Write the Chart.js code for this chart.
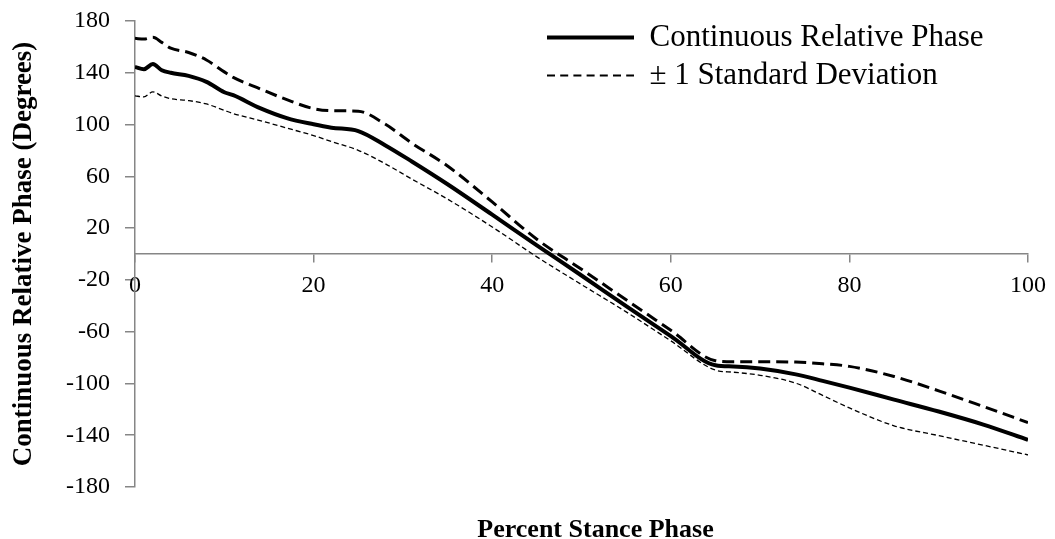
<!DOCTYPE html>
<html>
<head>
<meta charset="UTF-8">
<script src="https://cdn.jsdelivr.net/npm/chart.js@4.4.0/dist/chart.umd.min.js"></script>
<style>
  body { margin: 0; background: #fff; }
</style>
</head>
<body>
<canvas id="chart" width="1055" height="539"></canvas>
<script>
// percent of stance phase (x) and relative phase in degrees
const stance = [0, 1, 2, 3, 4, 6, 8, 10, 11, 14, 17, 20, 22, 25, 28, 31, 35, 40, 45, 50,
                55, 60, 65, 67, 70, 74, 77, 80, 85, 90, 95, 100];
const crpMean = [144.6, 142.8, 146.7, 142, 140, 137.6, 133, 125, 122.7, 112.7, 105, 100.2, 97.6, 95,
                 84.1, 71.5, 53.9, 30.4, 6.7, -16.6, -40.3, -63.4, -86, -86.9, -88.5, -93, -98,
                 -103.2, -112.5, -121.7, -131.8, -143.6];
const crpPlusSD = [166.6, 166, 167.4, 163.5, 159, 155.7, 149.9, 140.7, 136.4, 127.6, 119.2, 112.3,
                   110.7, 110.3, 100.4, 85.6, 68, 40.2, 11.4, -11.8, -35.4, -58.9, -82.4, -83.2,
                   -83.2, -83.5, -84.8, -86.8, -94.6, -105.7, -117.8, -130.2];
const crpMinusSD = [122.2, 121.4, 125.3, 122, 120, 118.5, 115.9, 111, 108.5, 103.1, 97.3, 91.5,
                    86.9, 80.1, 69.8, 57.9, 42.4, 20.9, -2.2, -23.6, -44.7, -67.1, -89.7, -91.3,
                    -93.7, -99.8, -109.2, -118.9, -132.7, -140.3, -147.7, -155.2];

const yMin = -180, yMax = 180, yStep = 40;
const xMin = 0, xMax = 100, xStep = 20;

const serif = 'Liberation Serif, Times New Roman, serif';
const axisGrey = '#868686';

function pts(ys) {
  return stance.map((x, i) => ({ x: x, y: ys[i] }));
}

// put the legend inside the plot, top right, and nudge the bottom title
const placeBoxes = {
  id: 'placeBoxes',
  afterLayout(chart) {
    const lg = chart.legend;
    lg.left = 540;
    lg.top = 15;
    lg.right = 1050;
    lg.bottom = 200;
    const t = chart.scales.x2;
    t.left += 14;
    t.right += 14;
  }
};

new Chart(document.getElementById('chart'), {
  type: 'line',
  data: {
    datasets: [
      {
        label: 'Continuous Relative Phase',
        data: pts(crpMean),
        borderColor: '#000',
        backgroundColor: '#000',
        borderWidth: 4,
        legendWidth: 4,
        legendDash: []
      },
      {
        label: '+1 SD',
        data: pts(crpPlusSD),
        borderColor: '#000',
        backgroundColor: '#000',
        borderWidth: 3,
        borderDash: [12, 6]
      },
      {
        label: '\u00b1 1 Standard Deviation',
        data: pts(crpMinusSD),
        borderColor: '#000',
        backgroundColor: '#000',
        borderWidth: 1.3,
        borderDash: [5, 3],
        legendWidth: 2,
        legendDash: [8, 5.2]
      }
    ]
  },
  options: {
    responsive: false,
    animation: false,
    devicePixelRatio: 1,
    elements: {
      point: { radius: 0, hoverRadius: 0 },
      line: { cubicInterpolationMode: 'monotone', fill: false }
    },
    layout: { padding: { top: 21, right: 25, bottom: 0, left: 0 } },
    scales: {
      x: {
        type: 'linear',
        min: xMin, max: xMax,
        position: { y: 0 },
        ticks: {
          stepSize: xStep, autoSkip: false, maxRotation: 0,
          color: '#000', padding: 9,
          font: { family: serif, size: 24 }
        },
        grid: { drawOnChartArea: false, drawTicks: true, tickLength: 8, color: axisGrey, lineWidth: 1.5 },
        border: { color: axisGrey, width: 1.5 }
      },
      x2: {
        type: 'linear',
        axis: 'x',
        position: 'bottom',
        min: xMin, max: xMax,
        ticks: { display: false },
        grid: { display: false },
        border: { display: false },
        title: {
          display: true,
          text: 'Percent Stance Phase',
          color: '#000',
          font: { family: serif, size: 26, weight: 'bold', lineHeight: 0.85 },
          padding: { top: 0, bottom: -2 }
        },
        afterFit(s) { s.height = 52; }
      },
      y: {
        type: 'linear',
        min: yMin, max: yMax,
        ticks: {
          stepSize: yStep, autoSkip: false,
          color: '#000', padding: 15,
          font: { family: serif, size: 24 }
        },
        grid: { drawOnChartArea: false, drawTicks: true, tickLength: 10, color: axisGrey, lineWidth: 1.5 },
        border: { color: axisGrey, width: 1.5 },
        title: {
          display: true,
          text: 'Continuous Relative Phase (Degrees)',
          color: '#000',
          font: { family: serif, size: 27, weight: 'bold' },
          padding: { top: 8, bottom: 0 }
        },
        afterFit(s) {
          s.width = 135;
          // label overhang is covered by the layout padding
          s.paddingTop = 0;
          s.paddingBottom = 0;
        }
      }
    },
    plugins: {
      tooltip: { enabled: false },
      legend: {
        position: 'chartArea',
        align: 'start',
        labels: {
          usePointStyle: true,
          pointStyle: 'line',
          pointStyleWidth: 87,
          color: '#000',
          padding: 7,
          font: { family: serif, size: 31 },
          generateLabels(chart) {
            const items = Chart.defaults.plugins.legend.labels.generateLabels(chart);
            return items.map(item => {
              const ds = chart.data.datasets[item.datasetIndex];
              item.lineWidth = ds.legendWidth !== undefined ? ds.legendWidth : ds.borderWidth;
              item.lineDash = ds.legendDash || ds.borderDash || [];
              item.strokeStyle = '#000';
              item.fillStyle = '#000';
              return item;
            });
          },
          filter: item => item.datasetIndex !== 1
        }
      }
    }
  },
  plugins: [placeBoxes]
});
</script>
</body>
</html>
